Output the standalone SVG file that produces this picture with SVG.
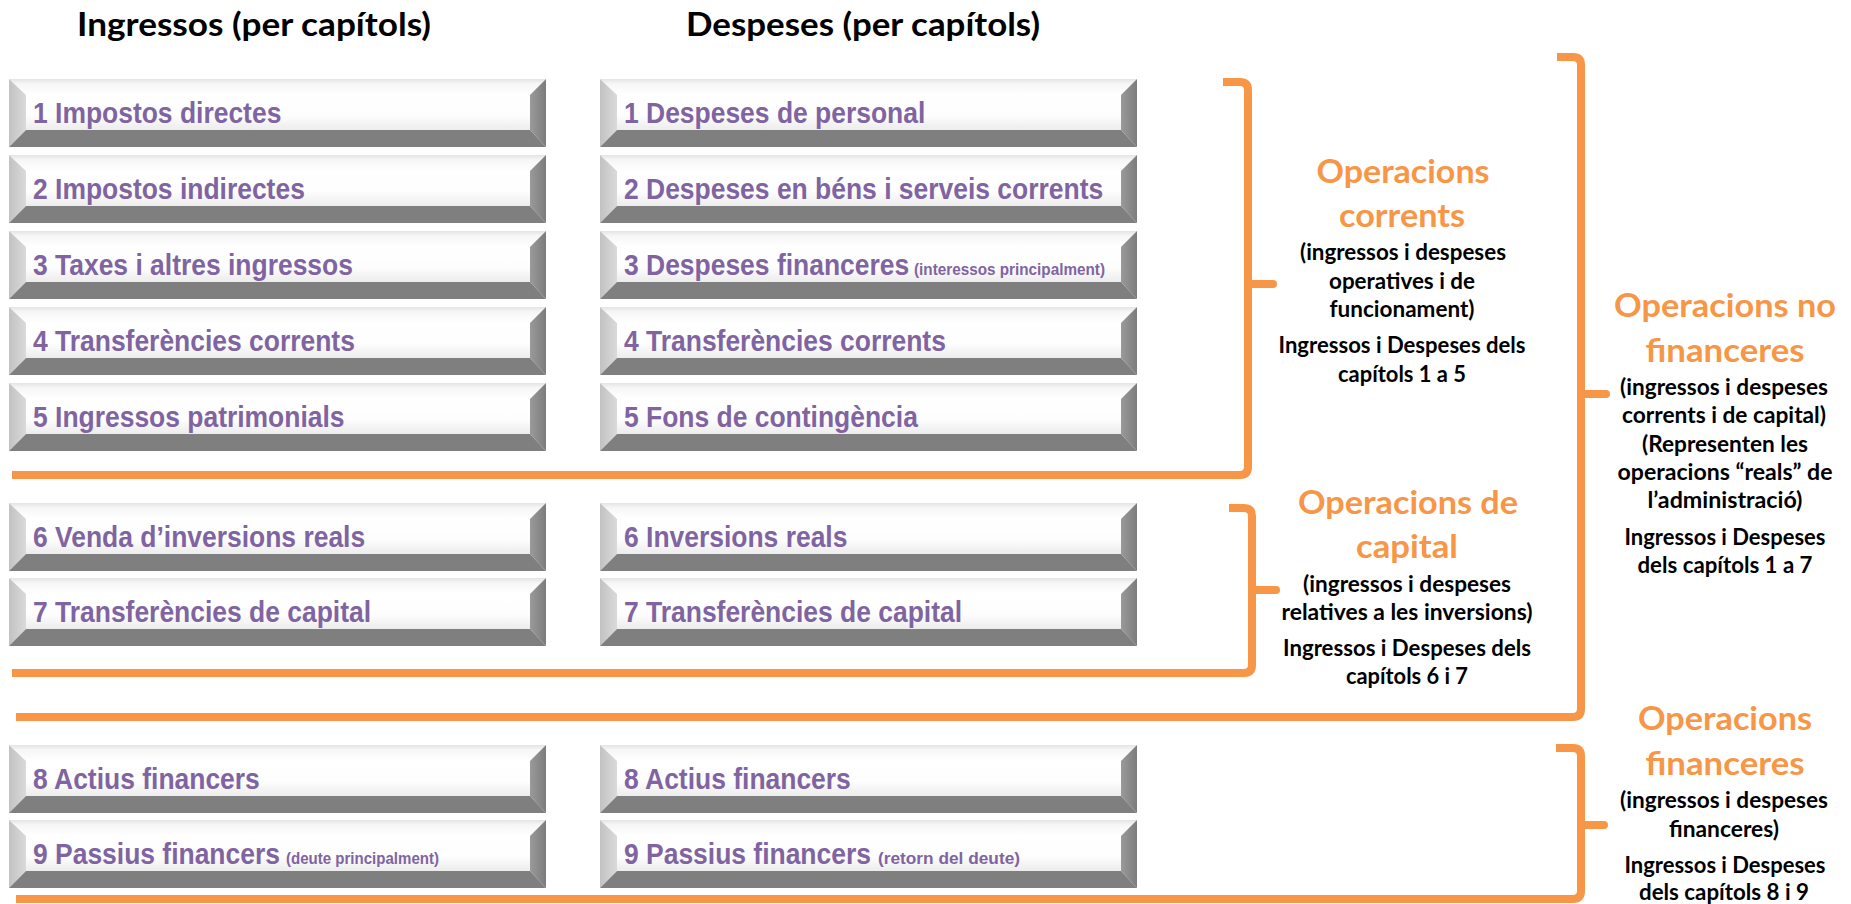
<svg xmlns="http://www.w3.org/2000/svg" xmlns:xlink="http://www.w3.org/1999/xlink" width="1851" height="904" viewBox="0 0 1851 904">
<style>
.title{font-family:Lato,"Open Sans","Liberation Sans",sans-serif;font-weight:700;font-size:33px;fill:#000;text-anchor:middle}
.box{font-family:"Liberation Sans",Arial,sans-serif;font-weight:700;font-size:30px;fill:#8064A2}
.sm{font-family:"Liberation Sans",Arial,sans-serif;font-weight:700;font-size:17px;fill:#8064A2}
.oh{font-family:Lato,"Open Sans","Liberation Sans",sans-serif;font-weight:700;font-size:33px;fill:#F79646;text-anchor:middle}
.bt{font-family:Lato,"Open Sans","Liberation Sans",sans-serif;font-weight:700;font-size:22px;fill:#000;text-anchor:middle}
.br{fill:none;stroke:#F79646;stroke-width:8;stroke-linejoin:round}
.tick{fill:none;stroke:#F79646;stroke-width:8;stroke-linecap:round}
</style>
<defs>
<linearGradient id="gTop" x1="0" y1="0" x2="0" y2="1"><stop offset="0" stop-color="#e4e4e4"/><stop offset="0.3" stop-color="#f6f6f6"/><stop offset="1" stop-color="#ffffff"/></linearGradient>
<linearGradient id="gFace" x1="0" y1="0" x2="0" y2="1"><stop offset="0" stop-color="#ffffff"/><stop offset="0.6" stop-color="#fdfdfd"/><stop offset="1" stop-color="#ececec"/></linearGradient>
<linearGradient id="gLeft" x1="0" y1="0" x2="1" y2="0"><stop offset="0" stop-color="#c2c2c2"/><stop offset="1" stop-color="#dadada"/></linearGradient>
<linearGradient id="gRight" x1="0" y1="0" x2="1" y2="0"><stop offset="0" stop-color="#9a9a9a"/><stop offset="1" stop-color="#7c7c7c"/></linearGradient>
<g id="bevel">
<polygon points="0,0 537,0 521,16 17,16" fill="url(#gTop)"/>
<rect x="17" y="16" width="504" height="35" fill="url(#gFace)"/>
<polygon points="0,0 17,16 17,51 0,68" fill="url(#gLeft)"/>
<polygon points="537,0 537,68 521,51 521,16" fill="url(#gRight)"/>
<polygon points="0,68 17,51 521,51 537,68" fill="#7f7f7f"/>
</g>
</defs>
<rect width="1851" height="904" fill="#ffffff"/>

<g id="titles">
<text class="title" x="254" y="36" textLength="354" lengthAdjust="spacingAndGlyphs">Ingressos (per capítols)</text>
<text class="title" x="863" y="36" textLength="354" lengthAdjust="spacingAndGlyphs">Despeses (per capítols)</text>
</g>

<g id="ing1" transform="translate(9,79)"><use xlink:href="#bevel"/><text class="box" transform="translate(24,44) scale(0.882,1)">1 Impostos directes</text></g>
<g id="ing2" transform="translate(9,155)"><use xlink:href="#bevel"/><text class="box" transform="translate(24,44) scale(0.882,1)">2 Impostos indirectes</text></g>
<g id="ing3" transform="translate(9,231)"><use xlink:href="#bevel"/><text class="box" transform="translate(24,44) scale(0.882,1)">3 Taxes i altres ingressos</text></g>
<g id="ing4" transform="translate(9,307)"><use xlink:href="#bevel"/><text class="box" transform="translate(24,44) scale(0.882,1)">4 Transferències corrents</text></g>
<g id="ing5" transform="translate(9,383)"><use xlink:href="#bevel"/><text class="box" transform="translate(24,44) scale(0.882,1)">5 Ingressos patrimonials</text></g>
<g id="ing6" transform="translate(9,503)"><use xlink:href="#bevel"/><text class="box" transform="translate(24,44) scale(0.882,1)">6 Venda d’inversions reals</text></g>
<g id="ing7" transform="translate(9,578)"><use xlink:href="#bevel"/><text class="box" transform="translate(24,44) scale(0.882,1)">7 Transferències de capital</text></g>
<g id="ing8" transform="translate(9,745)"><use xlink:href="#bevel"/><text class="box" transform="translate(24,44) scale(0.882,1)">8 Actius financers</text></g>
<g id="ing9" transform="translate(9,820)"><use xlink:href="#bevel"/><text class="box" transform="translate(24,44) scale(0.882,1)">9 Passius financers</text><text class="sm" x="277" y="44" textLength="153" lengthAdjust="spacingAndGlyphs">(deute principalment)</text></g>

<g id="desp1" transform="translate(600,79)"><use xlink:href="#bevel"/><text class="box" transform="translate(24,44) scale(0.882,1)">1 Despeses de personal</text></g>
<g id="desp2" transform="translate(600,155)"><use xlink:href="#bevel"/><text class="box" transform="translate(24,44) scale(0.882,1)">2 Despeses en béns i serveis corrents</text></g>
<g id="desp3" transform="translate(600,231)"><use xlink:href="#bevel"/><text class="box" transform="translate(24,44) scale(0.882,1)">3 Despeses financeres</text><text class="sm" x="314" y="44" textLength="191" lengthAdjust="spacingAndGlyphs">(interessos principalment)</text></g>
<g id="desp4" transform="translate(600,307)"><use xlink:href="#bevel"/><text class="box" transform="translate(24,44) scale(0.882,1)">4 Transferències corrents</text></g>
<g id="desp5" transform="translate(600,383)"><use xlink:href="#bevel"/><text class="box" transform="translate(24,44) scale(0.882,1)">5 Fons de contingència</text></g>
<g id="desp6" transform="translate(600,503)"><use xlink:href="#bevel"/><text class="box" transform="translate(24,44) scale(0.882,1)">6 Inversions reals</text></g>
<g id="desp7" transform="translate(600,578)"><use xlink:href="#bevel"/><text class="box" transform="translate(24,44) scale(0.882,1)">7 Transferències de capital</text></g>
<g id="desp8" transform="translate(600,745)"><use xlink:href="#bevel"/><text class="box" transform="translate(24,44) scale(0.882,1)">8 Actius financers</text></g>
<g id="desp9" transform="translate(600,820)"><use xlink:href="#bevel"/><text class="box" transform="translate(24,44) scale(0.882,1)">9 Passius financers</text><text class="sm" x="278" y="44" textLength="142" lengthAdjust="spacingAndGlyphs">(retorn del deute)</text></g>

<g id="connectors">
<path class="br" d="M1223,82 H1240 Q1248,82 1248,90 V467 Q1248,475 1240,475 H12"/>
<line class="tick" x1="1248" y1="284" x2="1273" y2="284"/>
<path class="br" d="M1229,508 H1244 Q1252,508 1252,516 V665 Q1252,673 1244,673 H12"/>
<line class="tick" x1="1252" y1="590" x2="1276" y2="590"/>
<path class="br" d="M1557,57 H1573 Q1581,57 1581,65 V709 Q1581,717 1573,717 H16"/>
<line class="tick" x1="1581" y1="394" x2="1606" y2="394"/>
<path class="br" d="M1556,748 H1573 Q1581,748 1581,756 V891 Q1581,899 1573,899 H16"/>
<line class="tick" x1="1581" y1="825" x2="1604" y2="825"/>
</g>

<g id="op-corrents">
<text class="oh" x="1403" y="183" textLength="173" lengthAdjust="spacingAndGlyphs">Operacions</text>
<text class="oh" x="1402" y="227" textLength="126" lengthAdjust="spacingAndGlyphs">corrents</text>
<text class="bt" x="1403" y="260" textLength="206" lengthAdjust="spacingAndGlyphs">(ingressos i despeses</text>
<text class="bt" x="1402" y="289" textLength="146" lengthAdjust="spacingAndGlyphs">operatives i de</text>
<text class="bt" x="1402" y="317" textLength="145" lengthAdjust="spacingAndGlyphs">funcionament)</text>
<text class="bt" x="1402" y="353" textLength="247" lengthAdjust="spacingAndGlyphs">Ingressos i Despeses dels</text>
<text class="bt" x="1402" y="382" textLength="128" lengthAdjust="spacingAndGlyphs">capítols 1 a 5</text>
</g>

<g id="op-capital">
<text class="oh" x="1408" y="514" textLength="220" lengthAdjust="spacingAndGlyphs">Operacions de</text>
<text class="oh" x="1407" y="558" textLength="102" lengthAdjust="spacingAndGlyphs">capital</text>
<text class="bt" x="1407" y="592" textLength="208" lengthAdjust="spacingAndGlyphs">(ingressos i despeses</text>
<text class="bt" x="1407" y="620" textLength="251" lengthAdjust="spacingAndGlyphs">relatives a les inversions)</text>
<text class="bt" x="1407" y="656" textLength="248" lengthAdjust="spacingAndGlyphs">Ingressos i Despeses dels</text>
<text class="bt" x="1407" y="684" textLength="122" lengthAdjust="spacingAndGlyphs">capítols 6 i 7</text>
</g>

<g id="op-no-financeres">
<text class="oh" x="1725" y="317" textLength="222" lengthAdjust="spacingAndGlyphs">Operacions no</text>
<text class="oh" x="1725" y="362" textLength="159" lengthAdjust="spacingAndGlyphs">financeres</text>
<text class="bt" x="1724" y="395" textLength="208" lengthAdjust="spacingAndGlyphs">(ingressos i despeses</text>
<text class="bt" x="1724" y="423" textLength="204" lengthAdjust="spacingAndGlyphs">corrents i de capital)</text>
<text class="bt" x="1725" y="452" textLength="166" lengthAdjust="spacingAndGlyphs">(Representen les</text>
<text class="bt" x="1725" y="480" textLength="215" lengthAdjust="spacingAndGlyphs">operacions “reals” de</text>
<text class="bt" x="1725" y="508" textLength="155" lengthAdjust="spacingAndGlyphs">l’administració)</text>
<text class="bt" x="1725" y="545" textLength="201" lengthAdjust="spacingAndGlyphs">Ingressos i Despeses</text>
<text class="bt" x="1725" y="573" textLength="175" lengthAdjust="spacingAndGlyphs">dels capítols 1 a 7</text>
</g>

<g id="op-financeres">
<text class="oh" x="1725" y="730" textLength="174" lengthAdjust="spacingAndGlyphs">Operacions</text>
<text class="oh" x="1725" y="775" textLength="159" lengthAdjust="spacingAndGlyphs">financeres</text>
<text class="bt" x="1724" y="808" textLength="208" lengthAdjust="spacingAndGlyphs">(ingressos i despeses</text>
<text class="bt" x="1724" y="837" textLength="110" lengthAdjust="spacingAndGlyphs">financeres)</text>
<text class="bt" x="1725" y="873" textLength="201" lengthAdjust="spacingAndGlyphs">Ingressos i Despeses</text>
<text class="bt" x="1724" y="900" textLength="170" lengthAdjust="spacingAndGlyphs">dels capítols 8 i 9</text>
</g>
</svg>
